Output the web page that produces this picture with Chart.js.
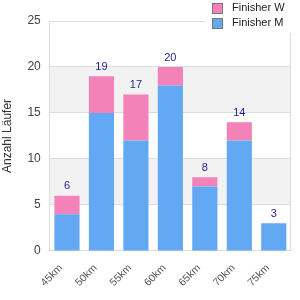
<!DOCTYPE html>
<html>
<head>
<meta charset="utf-8">
<script src="https://cdn.jsdelivr.net/npm/chart.js@4"></script>
<style>
  body { margin: 0; background: #fff; }
  #wrap { width: 300px; height: 300px; }
</style>
</head>
<body>
<div id="wrap"><canvas id="myChart" width="300" height="300"></canvas></div>
<script>
// Daten
const categories = ["45km", "50km", "55km", "60km", "65km", "70km", "75km"];
const finisherM = [4, 15, 12, 18, 7, 12, 3];
const finisherW = [2, 4, 5, 2, 1, 2, 0];
const yTicks = [0, 5, 10, 15, 20, 25];

const colorM = "#62a8f3";
const colorW = "#f282b8";
const fontFamily = '"Liberation Sans", Arial, sans-serif';

// grey bands between 5-10 and 15-20, plus right border
const bandPlugin = {
  id: 'bands',
  beforeDraw(chart) {
    const { ctx, chartArea, scales } = chart;
    const y = scales.y;
    ctx.save();
    ctx.fillStyle = '#f2f2f2';
    for (let i = 1; i < yTicks.length - 1; i += 2) {
      const top = y.getPixelForValue(yTicks[i + 1]);
      const bottom = y.getPixelForValue(yTicks[i]);
      ctx.fillRect(chartArea.left, top, chartArea.right - chartArea.left, bottom - top);
    }
    ctx.strokeStyle = '#ddd';
    ctx.lineWidth = 1;
    ctx.beginPath();
    ctx.moveTo(Math.round(chartArea.right) - 0.5, chartArea.top);
    ctx.lineTo(Math.round(chartArea.right) - 0.5, chartArea.bottom);
    ctx.stroke();
    ctx.restore();
  }
};

// totals above bars
const totalsPlugin = {
  id: 'totals',
  afterDatasetsDraw(chart) {
    const { ctx } = chart;
    const last = chart.getDatasetMeta(1);
    const first = chart.getDatasetMeta(0);
    ctx.save();
    ctx.font = '11px ' + fontFamily;
    ctx.fillStyle = '#1f1f8f';
    ctx.textAlign = 'center';
    ctx.textBaseline = 'bottom';
    categories.forEach((c, i) => {
      const total = finisherM[i] + finisherW[i];
      const bar = finisherW[i] > 0 ? last.data[i] : first.data[i];
      ctx.fillText(String(total), bar.x, bar.y - 4);
    });
    ctx.restore();
  }
};

// legend top right, drawn on a white box
const legendPlugin = {
  id: 'myLegend',
  afterDraw(chart) {
    const { ctx } = chart;
    const items = [chart.data.datasets[1], chart.data.datasets[0]];
    ctx.save();
    ctx.fillStyle = '#fff';
    ctx.fillRect(205, 0, 95, 33);
    ctx.font = '11px ' + fontFamily;
    ctx.textBaseline = 'middle';
    items.forEach((ds, i) => {
      const yy = 8 + i * 15;
      ctx.fillStyle = ds.backgroundColor;
      ctx.fillRect(213, yy - 4, 9, 9);
      ctx.strokeStyle = '#777';
      ctx.lineWidth = 1;
      ctx.strokeRect(212.5, yy - 4.5, 10, 10);
      ctx.fillStyle = '#222';
      ctx.fillText(ds.label, 232, yy);
    });
    ctx.restore();
  }
};

const ctx = document.getElementById('myChart');

new Chart(ctx, {
  type: "bar",
  data: {
    labels: categories,
    datasets: [
      { label: "Finisher M", data: finisherM, backgroundColor: colorM, categoryPercentage: 1, barPercentage: 0.73 },
      { label: "Finisher W", data: finisherW, backgroundColor: colorW, categoryPercentage: 1, barPercentage: 0.73 }
    ]
  },
  options: {
    responsive: false,
    animation: false,
    layout: { padding: { top: 21, right: 9, left: 0, bottom: 0 } },
    plugins: {
      legend: { display: false },
      tooltip: { enabled: false }
    },
    scales: {
      x: {
        stacked: true,
        grid: { display: false, drawTicks: false },
        border: { color: '#ddd' },
        ticks: {
          color: '#555',
          font: { size: 10.5, family: fontFamily },
          minRotation: 45,
          maxRotation: 45,
          padding: 11,
          labelOffset: -6
        }
      },
      y: {
        stacked: true,
        min: 0,
        max: 25,
        grid: { color: '#ddd', drawTicks: false },
        border: { color: '#ddd' },
        ticks: {
          stepSize: 5,
          color: '#444',
          font: { size: 12, family: fontFamily },
          padding: 9
        },
        title: {
          display: true,
          text: "Anzahl Läufer",
          color: '#333',
          font: { size: 12, family: fontFamily },
          padding: { top: 0, bottom: 4 }
        }
      }
    }
  },
  plugins: [bandPlugin, totalsPlugin, legendPlugin]
});
</script>
</body>
</html>
